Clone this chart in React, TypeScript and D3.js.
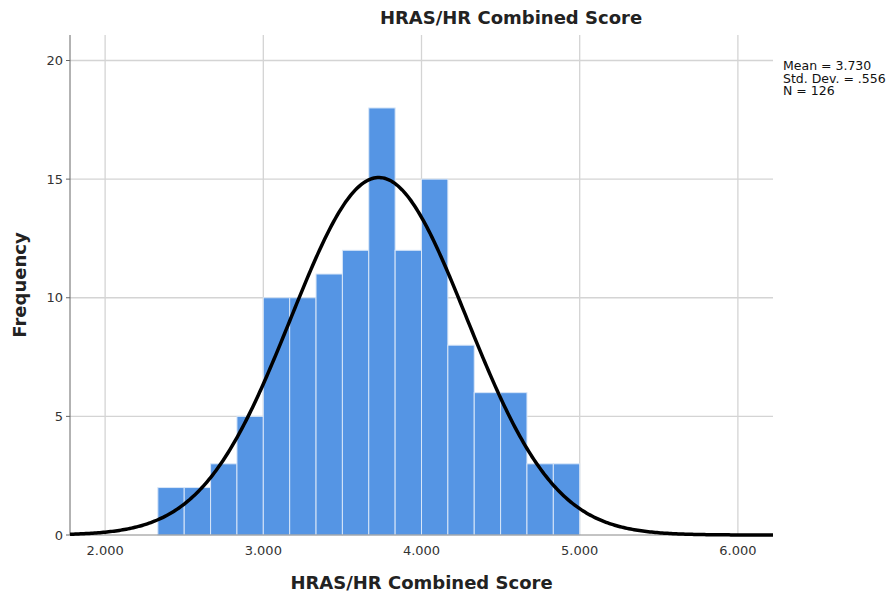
import React from "react";
import * as d3 from "d3";

const binStarts = [2.3333, 2.5, 2.6667, 2.8333, 3.0, 3.1667, 3.3333, 3.5, 3.6667, 3.8333, 4.0, 4.1667, 4.3333, 4.5, 4.6667, 4.8333];
const counts = [2, 2, 3, 5, 10, 10, 11, 12, 18, 12, 15, 8, 6, 6, 3, 3];
const binWidth = 1 / 6;
const xTicks = [2, 3, 4, 5, 6];
const yTicks = [0, 5, 10, 15, 20];
const mean = 3.73;
const sd = 0.556;
const n = 126;
const statLines = ["Mean = 3.730", "Std. Dev. = .556", "N = 126"];

export default function App() {
  const W = 888, H = 596;
  const left = 70, right = 773, top = 35, bottom = 535;
  const x = d3.scaleLinear().domain([1.778, 6.222]).range([left, right]);
  const y = d3.scaleLinear().domain([0, 20]).range([bottom, 60.5]);
  const pdf = (v: number) => (n * binWidth) / (sd * Math.sqrt(2 * Math.PI)) * Math.exp(-0.5 * ((v - mean) / sd) ** 2);
  const pts = d3.range(0, 401).map((i) => {
    const v = 1.778 + (i / 400) * (6.222 - 1.778);
    return [v, pdf(v)] as [number, number];
  });
  const line = d3.line<[number, number]>().x((d) => x(d[0])).y((d) => y(d[1]))(pts) || "";
  const font = "'DejaVu Sans', sans-serif";
  return (
    <svg width={W} height={H} style={{ position: "absolute", left: 0, top: 0 }} fontFamily={font}>
      <rect width={W} height={H} fill="#fff" />
      {xTicks.map((t) => (
        <line key={"gx" + t} x1={x(t)} x2={x(t)} y1={top} y2={bottom} stroke="#d4d4d4" strokeWidth={1.3} />
      ))}
      {yTicks.filter((t) => t > 0).map((t) => (
        <line key={"gy" + t} x1={left} x2={right} y1={y(t)} y2={y(t)} stroke="#d4d4d4" strokeWidth={1.3} />
      ))}
      {binStarts.map((b, i) => (
        <rect key={"b" + i} x={x(b)} y={y(counts[i])} width={x(b + binWidth) - x(b)} height={bottom - y(counts[i])}
          fill="#5595e4" stroke="#d8e6f8" strokeWidth={1} />
      ))}
      <line x1={left} x2={left} y1={top} y2={bottom} stroke="#666" strokeWidth={1} />
      <line x1={left} x2={right} y1={bottom} y2={bottom} stroke="#888" strokeWidth={1} />
      {yTicks.map((t) => (
        <line key={"ty" + t} x1={left - 4} x2={left} y1={y(t)} y2={y(t)} stroke="#666" />
      ))}
      <path d={line} fill="none" stroke="#000" strokeWidth={3.5} />
      {yTicks.map((t) => (
        <text key={"ly" + t} x={left - 7} y={y(t)} dy="0.35em" textAnchor="end" fontSize={13} fill="#333">{t}</text>
      ))}
      {xTicks.map((t) => (
        <text key={"lx" + t} x={x(t)} y={bottom + 20} textAnchor="middle" fontSize={13} fill="#333">{d3.format(".3f")(t)}</text>
      ))}
      <text x={511} y={24} textAnchor="middle" fontSize={18} fontWeight="bold" fill="#222">HRAS/HR Combined Score</text>
      <text x={(left + right) / 2} y={589} textAnchor="middle" fontSize={18} fontWeight="bold" fill="#222">HRAS/HR Combined Score</text>
      <text transform={`translate(26,${285}) rotate(-90)`} textAnchor="middle" fontSize={18} fontWeight="bold" fill="#222">Frequency</text>
      {statLines.map((s, i) => (
        <text key={"s" + i} x={783} y={70 + i * 12.7} fontSize={12.5} fill="#111">{s}</text>
      ))}
    </svg>
  );
}
